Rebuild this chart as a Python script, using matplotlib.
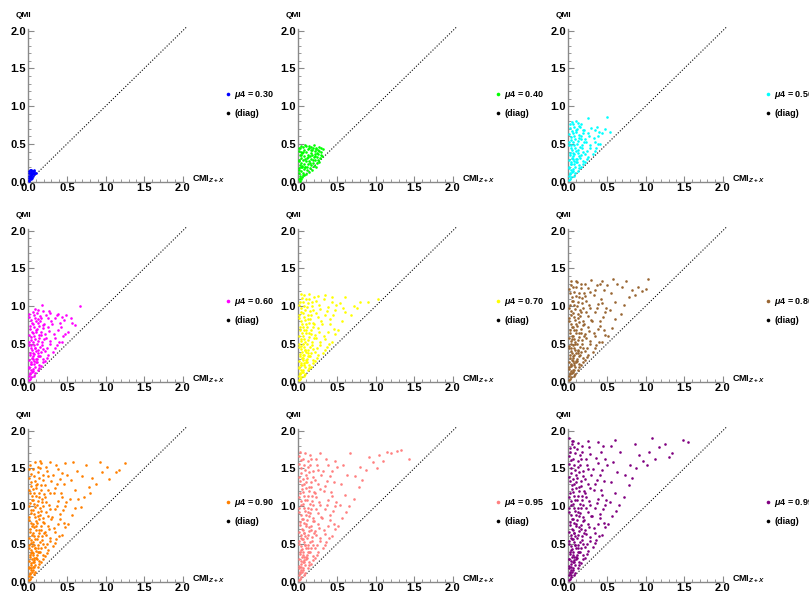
import matplotlib
matplotlib.use('Agg')
import matplotlib.pyplot as plt
from matplotlib.lines import Line2D
from matplotlib.ticker import MultipleLocator, FormatStrFormatter

# ─── Data (CMI, QMI) samples ────────────────────────────────────────────────
pts_030 = [(0.01,0.02),(0.02,0.05),(0.01,0.08),(0.02,0.11),(0.01,0.14),(0.03,0.15),
           (0.04,0.13),(0.03,0.09),(0.04,0.06),(0.03,0.03),(0.05,0.10),(0.06,0.14),
           (0.06,0.08),(0.07,0.12),(0.05,0.05),(0.08,0.10),(0.09,0.12),(0.07,0.15),
           (0.02,0.16),(0.005,0.12),(0.005,0.05),(0.015,0.01),(0.04,0.16),(0.06,0.11),
           (0.08,0.14),(0.10,0.11),(0.05,0.14),(0.03,0.12),(0.02,0.08),(0.04,0.09)]

pts_040 = [(0.01,0.03),(0.02,0.07),(0.01,0.11),(0.03,0.14),(0.01,0.18),(0.02,0.22),(0.04,0.25),
           (0.01,0.29),(0.03,0.32),(0.02,0.36),(0.04,0.40),(0.01,0.44),(0.03,0.47),
           (0.05,0.06),(0.06,0.12),(0.07,0.17),(0.05,0.21),(0.08,0.24),(0.06,0.29),(0.07,0.34),
           (0.05,0.38),(0.08,0.42),(0.06,0.46),(0.09,0.49),
           (0.10,0.10),(0.11,0.15),(0.09,0.19),(0.12,0.23),(0.10,0.27),(0.11,0.31),(0.13,0.35),
           (0.10,0.39),(0.12,0.43),(0.14,0.47),
           (0.14,0.13),(0.15,0.18),(0.16,0.22),(0.14,0.27),(0.17,0.30),(0.15,0.34),(0.16,0.38),
           (0.18,0.42),(0.17,0.46),(0.20,0.48),
           (0.18,0.16),(0.20,0.21),(0.19,0.25),(0.21,0.29),(0.20,0.33),(0.22,0.37),(0.21,0.41),(0.23,0.45),
           (0.23,0.20),(0.24,0.25),(0.25,0.29),(0.24,0.33),(0.26,0.37),(0.25,0.42),(0.27,0.46),
           (0.27,0.26),(0.28,0.31),(0.29,0.36),(0.30,0.40),(0.31,0.34),(0.32,0.43),(0.29,0.45),
           (0.02,0.01),(0.04,0.03),(0.03,0.19),(0.07,0.09),
           (0.025,0.05),(0.005,0.16),(0.045,0.20),(0.015,0.27),(0.035,0.36),(0.005,0.41),
           (0.025,0.44),(0.055,0.09),(0.085,0.20),(0.065,0.40),(0.085,0.30),(0.115,0.20),
           (0.125,0.33),(0.135,0.44),(0.155,0.25),(0.175,0.36),(0.195,0.29),(0.215,0.34),
           (0.225,0.43),(0.245,0.38),(0.195,0.44),(0.265,0.41),(0.16,0.42),(0.105,0.47)]

pts_050 = [(0.01,0.02),(0.03,0.06),(0.02,0.10),(0.04,0.15),(0.01,0.20),(0.03,0.26),(0.05,0.32),
           (0.02,0.38),(0.04,0.45),(0.01,0.52),(0.03,0.59),(0.05,0.67),(0.02,0.76),
           (0.07,0.08),(0.06,0.14),(0.09,0.20),(0.08,0.27),(0.06,0.34),(0.10,0.41),(0.07,0.48),
           (0.09,0.56),(0.06,0.64),(0.08,0.72),(0.10,0.81),
           (0.12,0.14),(0.14,0.22),(0.11,0.30),(0.13,0.38),(0.15,0.46),(0.12,0.54),(0.14,0.62),
           (0.11,0.70),(0.13,0.78),
           (0.17,0.20),(0.19,0.28),(0.16,0.36),(0.18,0.44),(0.20,0.52),(0.17,0.60),(0.19,0.68),(0.16,0.76),
           (0.22,0.26),(0.26,0.33),(0.24,0.41),(0.28,0.49),(0.21,0.57),(0.25,0.64),(0.29,0.71),(0.26,0.84),
           (0.32,0.37),(0.36,0.45),(0.34,0.53),(0.38,0.61),(0.41,0.50),(0.43,0.64),(0.35,0.68),
           (0.50,0.86),(0.54,0.66),(0.47,0.70),
           (0.02,0.12),(0.04,0.23),(0.06,0.30),(0.08,0.37),(0.03,0.48),(0.11,0.26),
           (0.025,0.04),(0.005,0.08),(0.045,0.125),(0.015,0.175),(0.035,0.23),(0.005,0.29),
           (0.025,0.35),(0.045,0.415),(0.015,0.485),(0.035,0.555),(0.005,0.63),(0.025,0.71),(0.045,0.79),
           (0.085,0.11),(0.055,0.17),(0.075,0.235),(0.095,0.305),(0.065,0.375),(0.085,0.445),
           (0.055,0.52),(0.075,0.60),(0.095,0.68),(0.065,0.76),
           (0.135,0.18),(0.105,0.26),(0.145,0.34),(0.125,0.42),(0.115,0.50),(0.135,0.58),
           (0.105,0.66),(0.145,0.74),
           (0.185,0.24),(0.155,0.32),(0.195,0.40),(0.175,0.48),(0.165,0.56),(0.185,0.64),(0.155,0.72),
           (0.245,0.30),(0.215,0.37),(0.275,0.45),(0.235,0.53),(0.265,0.60),(0.205,0.68),
           (0.34,0.41),(0.39,0.50),(0.33,0.58),(0.40,0.66),(0.37,0.72)]

pts_060 = [(0.01,0.02),(0.03,0.06),(0.02,0.10),(0.04,0.15),(0.01,0.20),(0.03,0.26),(0.05,0.32),
           (0.02,0.38),(0.04,0.45),(0.01,0.52),(0.03,0.59),(0.05,0.66),(0.02,0.74),(0.04,0.82),(0.01,0.90),
           (0.07,0.08),(0.06,0.14),(0.09,0.20),(0.08,0.27),(0.06,0.34),(0.10,0.41),(0.07,0.48),
           (0.09,0.56),(0.06,0.64),(0.08,0.72),(0.10,0.80),(0.07,0.88),(0.09,0.96),
           (0.12,0.15),(0.14,0.22),(0.11,0.30),(0.13,0.38),(0.15,0.46),(0.12,0.54),(0.14,0.62),
           (0.11,0.70),(0.13,0.78),(0.15,0.87),(0.12,0.95),
           (0.17,0.21),(0.19,0.30),(0.16,0.39),(0.18,0.48),(0.20,0.57),(0.17,0.66),(0.19,0.75),
           (0.16,0.85),(0.18,1.01),
           (0.22,0.28),(0.26,0.36),(0.24,0.45),(0.28,0.54),(0.21,0.63),(0.25,0.72),(0.29,0.80),
           (0.23,0.88),(0.27,0.94),
           (0.32,0.39),(0.37,0.48),(0.34,0.58),(0.38,0.68),(0.31,0.76),(0.35,0.85),(0.39,0.90),
           (0.43,0.53),(0.47,0.63),(0.42,0.73),(0.46,0.82),(0.49,0.88),
           (0.52,0.66),(0.56,0.78),(0.55,0.85),(0.60,0.75),(0.67,1.00),
           (0.02,0.12),(0.04,0.23),(0.06,0.30),(0.08,0.37),(0.03,0.48),(0.11,0.26),(0.09,0.44),(0.13,0.34),
           (0.025,0.04),(0.005,0.08),(0.045,0.125),(0.015,0.175),(0.035,0.23),(0.005,0.29),
           (0.025,0.35),(0.045,0.415),(0.015,0.485),(0.035,0.555),(0.005,0.625),(0.025,0.70),
           (0.045,0.78),(0.015,0.86),
           (0.085,0.11),(0.055,0.17),(0.075,0.235),(0.095,0.305),(0.065,0.375),(0.085,0.445),
           (0.055,0.52),(0.075,0.60),(0.095,0.68),(0.065,0.76),(0.085,0.84),(0.055,0.92),
           (0.135,0.185),(0.105,0.26),(0.145,0.34),(0.125,0.42),(0.115,0.50),(0.135,0.58),
           (0.105,0.66),(0.145,0.74),(0.125,0.825),(0.115,0.91),
           (0.185,0.255),(0.155,0.345),(0.195,0.435),(0.175,0.525),(0.165,0.615),(0.185,0.705),
           (0.155,0.80),(0.195,0.93),
           (0.245,0.32),(0.215,0.405),(0.275,0.495),(0.235,0.585),(0.265,0.675),(0.205,0.76),
           (0.255,0.84),(0.285,0.91),
           (0.34,0.44),(0.395,0.53),(0.33,0.63),(0.41,0.78),(0.37,0.88),(0.45,0.60),(0.44,0.86)]

pts_070 = [(0.01,0.02),(0.03,0.06),(0.02,0.10),(0.04,0.15),(0.01,0.20),(0.03,0.25),(0.05,0.31),
           (0.02,0.37),(0.04,0.43),(0.01,0.50),(0.03,0.57),(0.05,0.64),(0.02,0.72),(0.04,0.80),
           (0.01,0.88),(0.03,0.97),(0.02,1.06),(0.04,1.16),
           (0.07,0.08),(0.06,0.13),(0.09,0.19),(0.08,0.25),(0.06,0.32),(0.10,0.39),(0.07,0.46),
           (0.09,0.53),(0.06,0.61),(0.08,0.69),(0.10,0.77),(0.07,0.86),(0.09,0.95),(0.06,1.05),(0.08,1.15),
           (0.12,0.15),(0.14,0.22),(0.11,0.30),(0.13,0.38),(0.15,0.46),(0.12,0.55),(0.14,0.64),
           (0.11,0.73),(0.13,0.83),(0.15,0.93),(0.12,1.04),(0.14,1.16),
           (0.17,0.20),(0.19,0.29),(0.16,0.38),(0.18,0.48),(0.20,0.58),(0.17,0.68),(0.19,0.78),
           (0.16,0.89),(0.18,1.00),(0.20,1.12),
           (0.22,0.27),(0.26,0.35),(0.24,0.44),(0.28,0.53),(0.21,0.62),(0.25,0.71),(0.29,0.81),
           (0.23,0.91),(0.27,1.01),(0.25,1.13),
           (0.32,0.38),(0.37,0.46),(0.34,0.56),(0.38,0.66),(0.31,0.77),(0.35,0.88),(0.39,0.99),(0.33,1.10),
           (0.43,0.52),(0.47,0.63),(0.41,0.76),(0.45,0.89),(0.49,1.01),(0.44,1.12),
           (0.52,0.68),(0.56,0.80),(0.61,0.92),(0.54,1.04),(0.60,1.12),(0.58,0.98),
           (0.68,0.88),(0.72,1.00),(0.76,0.97),(0.80,1.06),(0.90,1.05),(1.03,1.10),
           (0.02,0.12),(0.04,0.22),(0.06,0.29),(0.08,0.36),(0.03,0.47),(0.11,0.26),(0.09,0.42),(0.13,0.34),
           (0.025,0.04),(0.005,0.08),(0.045,0.125),(0.015,0.175),(0.035,0.225),(0.005,0.28),
           (0.025,0.34),(0.045,0.40),(0.015,0.465),(0.035,0.535),(0.005,0.605),(0.025,0.68),
           (0.045,0.76),(0.015,0.84),(0.035,0.925),(0.005,1.015),(0.045,1.11),
           (0.085,0.105),(0.055,0.16),(0.075,0.22),(0.095,0.285),(0.065,0.355),(0.085,0.425),
           (0.055,0.495),(0.075,0.57),(0.095,0.65),(0.065,0.73),(0.085,0.815),(0.055,0.905),
           (0.075,1.00),(0.095,1.10),
           (0.135,0.185),(0.105,0.26),(0.145,0.34),(0.125,0.42),(0.115,0.505),(0.135,0.595),
           (0.105,0.685),(0.145,0.78),(0.125,0.88),(0.115,0.985),(0.135,1.10),
           (0.185,0.245),(0.155,0.335),(0.195,0.43),(0.175,0.53),(0.165,0.63),(0.185,0.73),
           (0.155,0.835),(0.195,0.945),(0.175,1.06),
           (0.245,0.31),(0.215,0.395),(0.275,0.485),(0.235,0.575),(0.265,0.665),(0.205,0.76),
           (0.255,0.86),(0.285,0.96),(0.225,1.07),
           (0.34,0.42),(0.395,0.50),(0.33,0.61),(0.41,0.83),(0.37,0.94),(0.43,1.05),(0.35,1.15),
           (0.46,0.70),(0.48,0.95)]

pts_080 = [(0.01,0.02),(0.03,0.06),(0.02,0.10),(0.04,0.14),(0.01,0.19),(0.03,0.24),(0.05,0.29),
           (0.02,0.35),(0.04,0.41),(0.01,0.47),(0.03,0.54),(0.05,0.61),(0.02,0.68),(0.04,0.76),
           (0.01,0.84),(0.03,0.93),(0.02,1.02),(0.05,1.12),(0.01,1.23),(0.03,1.34),
           (0.07,0.08),(0.06,0.13),(0.09,0.19),(0.08,0.25),(0.06,0.31),(0.10,0.38),(0.07,0.45),
           (0.09,0.52),(0.06,0.60),(0.08,0.68),(0.10,0.77),(0.07,0.86),(0.09,0.96),(0.06,1.07),
           (0.08,1.19),(0.10,1.33),
           (0.12,0.16),(0.14,0.23),(0.11,0.30),(0.13,0.38),(0.15,0.46),(0.12,0.55),(0.14,0.64),
           (0.11,0.74),(0.13,0.84),(0.15,0.95),(0.12,1.06),(0.14,1.18),(0.11,1.32),
           (0.17,0.22),(0.19,0.31),(0.16,0.40),(0.18,0.50),(0.20,0.60),(0.17,0.70),(0.19,0.81),
           (0.16,0.92),(0.18,1.04),(0.20,1.17),(0.17,1.30),
           (0.22,0.29),(0.26,0.36),(0.24,0.45),(0.28,0.54),(0.21,0.63),(0.25,0.72),(0.29,0.82),
           (0.23,0.92),(0.27,1.02),(0.22,1.13),(0.26,1.24),(0.29,1.35),
           (0.32,0.40),(0.36,0.49),(0.34,0.60),(0.38,0.70),(0.31,0.81),(0.35,0.92),(0.39,1.03),
           (0.33,1.15),(0.37,1.28),
           (0.43,0.52),(0.47,0.62),(0.41,0.74),(0.45,0.86),(0.49,0.98),(0.42,1.10),(0.46,1.22),(0.44,1.34),
           (0.52,0.60),(0.56,0.71),(0.61,0.83),(0.54,0.95),(0.60,1.06),(0.55,1.18),(0.63,1.30),(0.58,1.36),
           (0.68,0.90),(0.72,1.02),(0.78,1.12),(0.70,1.25),(0.82,1.22),(0.75,1.33),
           (0.87,1.15),(0.90,1.26),(0.95,1.20),(1.00,1.23),(1.03,1.36),
           (0.02,0.12),(0.04,0.21),(0.06,0.28),(0.08,0.35),(0.03,0.44),(0.11,0.27),(0.09,0.50),
           (0.05,0.57),(0.13,0.41),(0.07,0.16),
           (0.025,0.04),(0.005,0.08),(0.045,0.12),(0.015,0.165),(0.035,0.215),(0.005,0.265),
           (0.025,0.32),(0.045,0.38),(0.015,0.44),(0.035,0.505),(0.005,0.575),(0.025,0.645),
           (0.045,0.72),(0.015,0.80),(0.035,0.885),(0.005,0.975),(0.045,1.07),(0.025,1.175),(0.035,1.285),
           (0.085,0.105),(0.055,0.16),(0.075,0.22),(0.095,0.28),(0.065,0.345),(0.085,0.415),
           (0.055,0.485),(0.075,0.56),(0.095,0.64),(0.065,0.725),(0.085,0.815),(0.055,0.91),
           (0.075,1.015),(0.095,1.13),(0.065,1.26),
           (0.135,0.195),(0.105,0.265),(0.145,0.34),(0.125,0.42),(0.115,0.505),(0.135,0.595),
           (0.105,0.69),(0.145,0.79),(0.125,0.895),(0.115,1.005),(0.135,1.12),(0.105,1.25),
           (0.185,0.265),(0.155,0.355),(0.195,0.45),(0.175,0.55),(0.165,0.65),(0.185,0.755),
           (0.155,0.865),(0.195,0.98),(0.175,1.105),(0.165,1.235),
           (0.245,0.33),(0.215,0.405),(0.275,0.495),(0.235,0.585),(0.265,0.675),(0.205,0.77),
           (0.255,0.87),(0.285,0.97),(0.225,1.075),(0.275,1.185),(0.215,1.30),
           (0.34,0.44),(0.395,0.52),(0.33,0.65),(0.41,0.80),(0.37,0.97),(0.43,1.04),(0.35,1.21),
           (0.41,1.30),(0.46,0.68),(0.48,0.92),(0.50,1.28)]

pts_090 = [(0.01,0.02),(0.03,0.06),(0.02,0.10),(0.04,0.15),(0.01,0.20),(0.03,0.25),(0.05,0.30),
           (0.02,0.36),(0.04,0.42),(0.01,0.48),(0.03,0.55),(0.05,0.62),(0.02,0.70),(0.04,0.78),
           (0.01,0.86),(0.03,0.95),(0.02,1.04),(0.05,1.13),(0.01,1.22),(0.03,1.32),(0.04,1.43),(0.02,1.55),
           (0.07,0.10),(0.06,0.16),(0.09,0.22),(0.08,0.29),(0.06,0.35),(0.10,0.41),(0.07,0.49),
           (0.09,0.57),(0.06,0.64),(0.08,0.73),(0.10,0.81),(0.07,0.90),(0.09,0.99),(0.06,1.08),
           (0.08,1.18),(0.10,1.28),(0.07,1.40),(0.09,1.58),
           (0.12,0.20),(0.14,0.28),(0.11,0.36),(0.13,0.44),(0.15,0.52),(0.12,0.60),(0.14,0.69),
           (0.11,0.78),(0.13,0.87),(0.15,0.97),(0.12,1.07),(0.14,1.18),(0.11,1.30),(0.13,1.45),(0.15,1.60),
           (0.17,0.26),(0.19,0.35),(0.16,0.45),(0.18,0.55),(0.20,0.64),(0.17,0.74),(0.19,0.84),
           (0.16,0.94),(0.18,1.05),(0.20,1.16),(0.17,1.28),(0.19,1.42),(0.16,1.57),
           (0.22,0.34),(0.26,0.42),(0.24,0.50),(0.28,0.58),(0.21,0.66),(0.25,0.74),(0.29,0.83),
           (0.23,0.92),(0.27,1.01),(0.22,1.12),(0.26,1.22),(0.29,1.34),(0.24,1.46),(0.28,1.58),
           (0.32,0.47),(0.36,0.56),(0.34,0.66),(0.38,0.76),(0.31,0.86),(0.35,0.96),(0.39,1.07),
           (0.33,1.18),(0.37,1.30),(0.32,1.42),(0.36,1.55),
           (0.43,0.62),(0.47,0.72),(0.41,0.83),(0.45,0.95),(0.49,1.06),(0.42,1.18),(0.46,1.30),
           (0.44,1.44),(0.48,1.57),
           (0.52,0.77),(0.57,0.88),(0.61,0.98),(0.54,1.10),(0.60,1.22),(0.55,1.35),(0.63,1.47),
           (0.58,1.58),(0.64,1.10),
           (0.68,0.99),(0.72,1.12),(0.78,1.25),(0.70,1.40),(0.82,1.38),(0.75,1.55),(0.80,1.18),
           (0.88,1.30),(0.93,1.58),(0.96,1.45),(1.02,1.52),(1.05,1.36),(1.13,1.45),(1.18,1.48),(1.25,1.57),
           (0.02,0.12),(0.04,0.18),(0.06,0.26),(0.08,0.32),(0.03,0.38),(0.11,0.30),(0.09,0.44),
           (0.05,0.47),(0.13,0.40),(0.07,0.20),
           (0.025,0.04),(0.005,0.08),(0.045,0.125),(0.015,0.175),(0.035,0.225),(0.005,0.275),
           (0.025,0.33),(0.045,0.39),(0.015,0.45),(0.035,0.515),(0.005,0.585),(0.025,0.66),
           (0.045,0.74),(0.015,0.82),(0.035,0.905),(0.005,1.00),(0.045,1.085),(0.025,1.175),
           (0.035,1.27),(0.015,1.375),(0.005,1.49),
           (0.085,0.13),(0.055,0.19),(0.075,0.255),(0.095,0.32),(0.065,0.38),(0.085,0.45),
           (0.055,0.53),(0.075,0.60),(0.095,0.685),(0.065,0.77),(0.085,0.855),(0.055,0.945),
           (0.075,1.035),(0.095,1.13),(0.065,1.23),(0.085,1.34),(0.055,1.49),
           (0.135,0.24),(0.105,0.32),(0.145,0.40),(0.125,0.48),(0.115,0.56),(0.135,0.645),
           (0.105,0.735),(0.145,0.825),(0.125,0.92),(0.115,1.02),(0.135,1.125),(0.105,1.24),
           (0.145,1.375),(0.125,1.52),
           (0.185,0.30),(0.155,0.40),(0.195,0.50),(0.175,0.60),(0.165,0.69),(0.185,0.79),
           (0.155,0.89),(0.195,1.00),(0.175,1.10),(0.165,1.22),(0.185,1.35),(0.155,1.50),
           (0.245,0.38),(0.215,0.46),(0.275,0.54),(0.235,0.62),(0.265,0.70),(0.205,0.78),
           (0.255,0.87),(0.285,0.96),(0.225,1.06),(0.275,1.17),(0.215,1.28),(0.255,1.40),(0.235,1.52),
           (0.34,0.51),(0.395,0.60),(0.33,0.71),(0.41,0.90),(0.37,1.00),(0.43,1.12),(0.35,1.24),
           (0.41,1.36),(0.39,1.49),(0.46,0.78),(0.48,1.00),(0.50,1.42)]

pts_095 = [(0.01,0.02),(0.03,0.06),(0.02,0.11),(0.04,0.16),(0.01,0.21),(0.03,0.27),(0.05,0.33),
           (0.02,0.40),(0.04,0.47),(0.01,0.54),(0.03,0.62),(0.05,0.70),(0.02,0.79),(0.04,0.88),
           (0.01,0.97),(0.03,1.07),(0.02,1.17),(0.05,1.28),(0.01,1.39),(0.03,1.50),(0.04,1.61),(0.02,1.72),
           (0.07,0.09),(0.06,0.15),(0.09,0.22),(0.08,0.29),(0.06,0.36),(0.10,0.44),(0.07,0.52),
           (0.09,0.60),(0.06,0.69),(0.08,0.78),(0.10,0.88),(0.07,0.98),(0.09,1.08),(0.06,1.19),
           (0.08,1.30),(0.10,1.42),(0.07,1.55),(0.09,1.70),
           (0.12,0.18),(0.14,0.26),(0.11,0.35),(0.13,0.44),(0.15,0.53),(0.12,0.62),(0.14,0.72),
           (0.11,0.82),(0.13,0.92),(0.15,1.03),(0.12,1.14),(0.14,1.26),(0.11,1.38),(0.13,1.52),(0.15,1.68),
           (0.17,0.24),(0.19,0.34),(0.16,0.44),(0.18,0.54),(0.20,0.64),(0.17,0.74),(0.19,0.85),
           (0.16,0.96),(0.18,1.07),(0.20,1.19),(0.17,1.32),(0.19,1.46),(0.16,1.62),
           (0.22,0.31),(0.26,0.40),(0.24,0.49),(0.28,0.58),(0.21,0.67),(0.25,0.76),(0.29,0.86),
           (0.23,0.96),(0.27,1.06),(0.22,1.17),(0.26,1.29),(0.29,1.41),(0.24,1.54),(0.28,1.70),
           (0.32,0.44),(0.36,0.53),(0.34,0.63),(0.38,0.74),(0.31,0.85),(0.35,0.96),(0.39,1.08),
           (0.33,1.20),(0.37,1.33),(0.32,1.47),(0.36,1.62),
           (0.43,0.60),(0.47,0.70),(0.41,0.82),(0.45,0.94),(0.49,1.06),(0.42,1.19),(0.46,1.32),
           (0.44,1.46),(0.48,1.60),
           (0.52,0.74),(0.57,0.85),(0.62,0.92),(0.54,1.02),(0.60,1.15),(0.66,1.00),(0.55,1.30),
           (0.63,1.42),(0.58,1.55),(0.67,1.70),
           (0.72,1.10),(0.78,1.25),(0.74,1.40),(0.83,1.35),(0.80,1.52),(0.88,1.48),(0.92,1.65),(0.97,1.58),
           (1.02,1.50),(1.05,1.68),(1.10,1.60),(1.15,1.72),(1.20,1.70),(1.28,1.73),(1.33,1.74),(1.43,1.62),
           (0.02,0.13),(0.04,0.19),(0.06,0.26),(0.08,0.33),(0.03,0.42),(0.11,0.31),(0.09,0.48),
           (0.05,0.56),(0.13,0.40),(0.07,0.64),
           (0.025,0.04),(0.005,0.085),(0.045,0.135),(0.015,0.185),(0.035,0.24),(0.005,0.30),
           (0.025,0.365),(0.045,0.435),(0.015,0.505),(0.035,0.58),(0.005,0.66),(0.025,0.745),
           (0.045,0.835),(0.015,0.925),(0.035,1.02),(0.005,1.12),(0.045,1.225),(0.025,1.335),
           (0.035,1.445),(0.015,1.555),(0.005,1.665),
           (0.085,0.12),(0.055,0.185),(0.075,0.255),(0.095,0.325),(0.065,0.40),(0.085,0.48),
           (0.055,0.56),(0.075,0.645),(0.095,0.735),(0.065,0.83),(0.085,0.93),(0.055,1.03),
           (0.075,1.135),(0.095,1.245),(0.065,1.36),(0.085,1.485),(0.055,1.625),
           (0.135,0.22),(0.105,0.305),(0.145,0.395),(0.125,0.485),(0.115,0.575),(0.135,0.67),
           (0.105,0.77),(0.145,0.87),(0.125,0.975),(0.115,1.085),(0.135,1.20),(0.105,1.32),
           (0.145,1.45),(0.125,1.60),
           (0.185,0.29),(0.155,0.39),(0.195,0.49),(0.175,0.59),(0.165,0.69),(0.185,0.80),
           (0.155,0.91),(0.195,1.02),(0.175,1.13),(0.165,1.255),(0.185,1.39),(0.155,1.54),
           (0.245,0.36),(0.215,0.445),(0.275,0.535),(0.235,0.625),(0.265,0.715),(0.205,0.81),
           (0.255,0.91),(0.285,1.01),(0.225,1.12),(0.275,1.23),(0.215,1.35),(0.255,1.48),(0.235,1.62),
           (0.34,0.49),(0.395,0.58),(0.33,0.69),(0.41,0.88),(0.37,1.02),(0.43,1.13),(0.35,1.27),
           (0.41,1.40),(0.39,1.55),(0.46,0.76),(0.48,1.00),(0.50,1.52)]

pts_099 = [(0.01,0.02),(0.03,0.06),(0.02,0.11),(0.04,0.16),(0.01,0.21),(0.03,0.27),(0.05,0.33),
           (0.02,0.40),(0.04,0.47),(0.01,0.54),(0.03,0.62),(0.05,0.70),(0.02,0.79),(0.04,0.88),
           (0.01,0.97),(0.03,1.07),(0.02,1.17),(0.05,1.28),(0.01,1.39),(0.03,1.50),(0.04,1.61),
           (0.02,1.72),(0.05,1.82),(0.01,1.90),
           (0.07,0.09),(0.06,0.15),(0.09,0.22),(0.08,0.29),(0.06,0.36),(0.10,0.44),(0.07,0.52),
           (0.09,0.60),(0.06,0.69),(0.08,0.78),(0.10,0.88),(0.07,0.98),(0.09,1.08),(0.06,1.19),
           (0.08,1.30),(0.10,1.42),(0.07,1.55),(0.09,1.70),(0.06,1.86),
           (0.12,0.18),(0.14,0.26),(0.11,0.35),(0.13,0.44),(0.15,0.53),(0.12,0.62),(0.14,0.72),
           (0.11,0.82),(0.13,0.92),(0.15,1.03),(0.12,1.14),(0.14,1.26),(0.11,1.38),(0.13,1.52),
           (0.15,1.68),(0.12,1.84),
           (0.17,0.25),(0.19,0.35),(0.16,0.45),(0.18,0.55),(0.20,0.65),(0.17,0.75),(0.19,0.86),
           (0.16,0.97),(0.18,1.08),(0.20,1.20),(0.17,1.33),(0.19,1.47),(0.16,1.63),(0.18,1.80),
           (0.22,0.32),(0.26,0.41),(0.24,0.50),(0.28,0.59),(0.21,0.68),(0.25,0.77),(0.29,0.87),
           (0.23,0.97),(0.27,1.07),(0.22,1.18),(0.26,1.30),(0.29,1.42),(0.24,1.55),(0.28,1.69),(0.25,1.86),
           (0.32,0.46),(0.36,0.55),(0.34,0.65),(0.38,0.76),(0.31,0.87),(0.35,0.98),(0.39,1.10),
           (0.33,1.22),(0.37,1.35),(0.32,1.49),(0.36,1.64),(0.39,1.85),
           (0.43,0.62),(0.47,0.72),(0.41,0.84),(0.45,0.96),(0.49,1.08),(0.42,1.21),(0.46,1.34),
           (0.44,1.48),(0.48,1.63),(0.45,1.80),
           (0.52,0.76),(0.57,0.87),(0.62,0.94),(0.54,1.05),(0.60,1.18),(0.66,1.02),(0.55,1.32),
           (0.63,1.45),(0.58,1.58),(0.67,1.72),(0.60,1.88),
           (0.72,1.12),(0.78,1.28),(0.74,1.42),(0.83,1.37),(0.80,1.55),(0.88,1.50),(0.92,1.68),
           (0.97,1.60),(0.86,1.82),
           (1.02,1.55),(1.05,1.72),(1.08,1.90),(1.12,1.62),(1.18,1.78),(1.25,1.82),(1.30,1.65),
           (1.34,1.70),(1.49,1.88),(1.55,1.85),
           (0.02,0.13),(0.04,0.19),(0.06,0.26),(0.08,0.33),(0.03,0.42),(0.11,0.31),(0.09,0.48),
           (0.05,0.56),(0.13,0.40),(0.07,0.64),(0.01,0.30),(0.03,0.09),
           (0.025,0.04),(0.005,0.085),(0.045,0.135),(0.015,0.185),(0.035,0.24),(0.005,0.30),
           (0.025,0.365),(0.045,0.435),(0.015,0.505),(0.035,0.58),(0.005,0.66),(0.025,0.745),
           (0.045,0.835),(0.015,0.925),(0.035,1.02),(0.005,1.12),(0.045,1.225),(0.025,1.335),
           (0.035,1.445),(0.015,1.555),(0.005,1.665),(0.025,1.77),(0.045,1.86),
           (0.085,0.12),(0.055,0.185),(0.075,0.255),(0.095,0.325),(0.065,0.40),(0.085,0.48),
           (0.055,0.56),(0.075,0.645),(0.095,0.735),(0.065,0.83),(0.085,0.93),(0.055,1.03),
           (0.075,1.135),(0.095,1.245),(0.065,1.36),(0.085,1.485),(0.055,1.625),(0.075,1.78),
           (0.135,0.22),(0.105,0.305),(0.145,0.395),(0.125,0.485),(0.115,0.575),(0.135,0.67),
           (0.105,0.77),(0.145,0.87),(0.125,0.975),(0.115,1.085),(0.135,1.20),(0.105,1.32),
           (0.145,1.45),(0.125,1.60),(0.115,1.76),
           (0.185,0.30),(0.155,0.40),(0.195,0.50),(0.175,0.60),(0.165,0.70),(0.185,0.80),
           (0.155,0.91),(0.195,1.02),(0.175,1.14),(0.165,1.265),(0.185,1.40),(0.155,1.55),(0.175,1.72),
           (0.245,0.37),(0.215,0.455),(0.275,0.545),(0.235,0.635),(0.265,0.725),(0.205,0.82),
           (0.255,0.92),(0.285,1.02),(0.225,1.125),(0.275,1.24),(0.215,1.36),(0.255,1.49),
           (0.235,1.62),(0.265,1.78),
           (0.34,0.51),(0.395,0.60),(0.33,0.71),(0.41,0.90),(0.37,1.04),(0.43,1.15),(0.35,1.29),
           (0.41,1.42),(0.39,1.57),(0.46,0.78),(0.48,1.02),(0.50,1.55),(0.42,1.72),(0.55,1.80)]

MU4 = ['0.30', '0.40', '0.50', '0.60', '0.70', '0.80', '0.90', '0.95', '0.99']
COLORS = ['#0000ff', '#00ff00', '#00ffff', '#ff00ff', '#ffff00',
          '#996633', '#ff8000', '#ff8080', '#800080']
PANELS = [pts_030, pts_040, pts_050, pts_060, pts_070, pts_080, pts_090, pts_095, pts_099]
DIAG = [0.0, 2.05]

# ─── Style ───────────────────────────────────────────────────────────────────
plt.rcParams['font.family'] = ['Liberation Sans', 'DejaVu Sans']
plt.rcParams['font.weight'] = 'bold'
plt.rcParams['mathtext.fontset'] = 'custom'
plt.rcParams['mathtext.rm'] = 'Liberation Sans:bold'
plt.rcParams['mathtext.it'] = 'Liberation Sans:italic:bold'
plt.rcParams['mathtext.bf'] = 'Liberation Sans:bold'
GRAY = '#8a8a8a'

# ─── Canvas ──────────────────────────────────────────────────────────────────
W, H, DPI = 809, 598, 100
fig = plt.figure(figsize=(W / DPI, H / DPI), dpi=DPI, facecolor='white')

AX_W, AX_H = 158.3, 155.5          # axes box in pixels
LEG_Y = [103.5, 310.5, 511.5]      # legend centre per row (px from top)

for i, (pts, col, mu) in enumerate(zip(PANELS, COLORS, MU4)):
    r, c = divmod(i, 3)
    left = 28.3 + 270 * c
    base = 181.7 + 200 * r
    ax = fig.add_axes([left / W, (H - base) / H, AX_W / W, AX_H / H])

    cmi, qmi = zip(*pts)
    ax.scatter(cmi, qmi, s=3.5, c=col, linewidths=0, zorder=3, clip_on=False)
    ax.plot(DIAG, DIAG, color='black', lw=0.8, ls=(0, (1, 1.6)), zorder=2)

    ax.set_xlim(0, 2.05)
    ax.set_ylim(0, 2.06)
    for s in ('top', 'right'):
        ax.spines[s].set_visible(False)
    for s in ('left', 'bottom'):
        ax.spines[s].set_color(GRAY)
        ax.spines[s].set_linewidth(1.0)
    ax.spines['bottom'].set_bounds(0, 2.02)
    ax.spines['left'].set_bounds(0, 2.02)

    for axis in (ax.xaxis, ax.yaxis):
        axis.set_major_locator(MultipleLocator(0.5))
        axis.set_minor_locator(MultipleLocator(0.1))
        axis.set_major_formatter(FormatStrFormatter('%.1f'))
    ax.tick_params(which='both', direction='in', color=GRAY, labelsize=8)
    ax.tick_params(which='major', length=4, width=0.8)
    ax.tick_params(which='minor', length=2.3, width=0.6)
    ax.tick_params(axis='x', pad=1)
    ax.tick_params(axis='y', pad=1.5)

    ax.annotate('QMI', xy=(0, 1), xycoords='axes fraction', xytext=(-5, 11),
                textcoords='offset pixels', ha='center', va='center', fontsize=6)
    ax.annotate(r'$\mathrm{CMI}_{Z+X}$', xy=(1, 0), xycoords='axes fraction',
                xytext=(5, 2), textcoords='offset pixels', ha='left', va='center',
                fontsize=6.5)

    handles = [Line2D([], [], marker='o', ls='none', color=col, ms=2.6, mew=0),
               Line2D([], [], marker='o', ls='none', color='black', ms=2.6, mew=0)]
    ax.legend(handles, [r'$\mu$4 = ' + mu, '(diag)'], loc='center left',
              bbox_to_anchor=((224.4 + 270 * c) / W, (H - LEG_Y[r]) / H),
              bbox_transform=fig.transFigure, frameon=False, fontsize=6.5,
              handlelength=0.8, handletextpad=0.27, labelspacing=0.9,
              borderpad=0, borderaxespad=0)

fig.savefig('out.png', dpi=DPI, facecolor='white')
